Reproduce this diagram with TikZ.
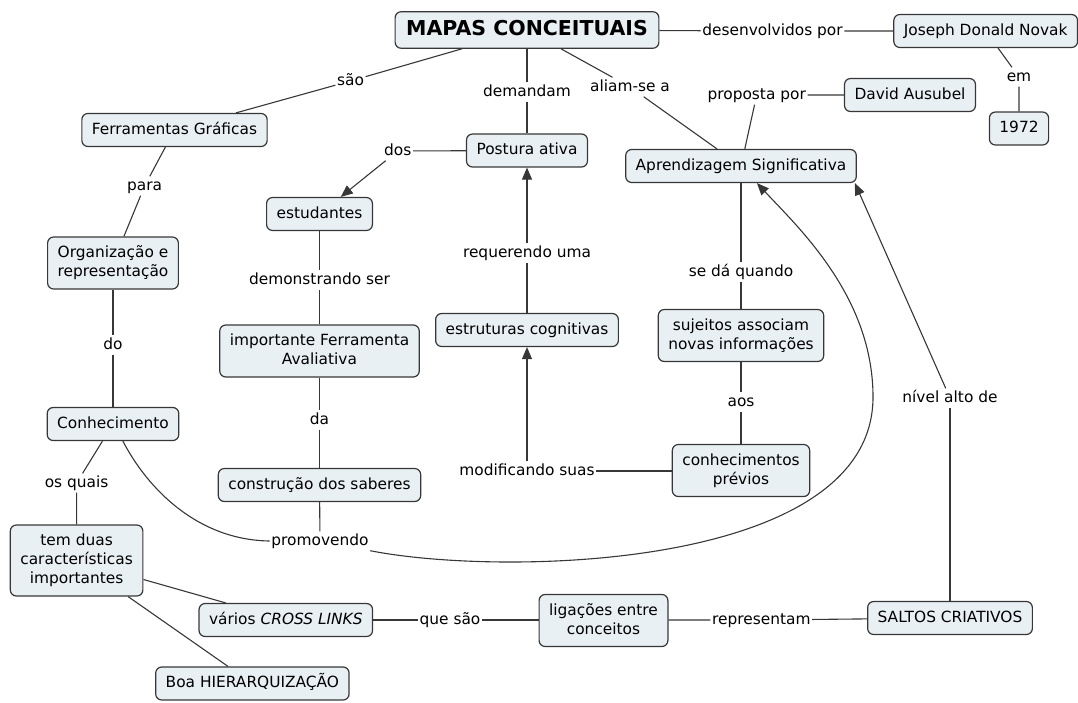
\documentclass[tikz,border=0pt]{standalone}
\usepackage{fontspec}
\setmainfont{DejaVu Sans}
\usetikzlibrary{arrows.meta}

\definecolor{boxfill}{RGB}{233,240,243}
\definecolor{boxline}{RGB}{55,55,55}

\tikzset{
    concept/.style={draw=boxline, fill=boxfill, rounded corners=6pt, line width=1.2pt,
        inner xsep=10pt, inner ysep=9pt, align=center, text height=11.5pt, text depth=3.5pt,
        font=\fontsize{15.4}{19}\selectfont},
    twolines/.style={text height=30.5pt},
    threelines/.style={text height=49.5pt},
    phrase/.style={inner xsep=1.5pt, inner ysep=2pt, text height=11.5pt, text depth=3.5pt,
        font=\fontsize{15.4}{19}\selectfont},
    link/.style={draw=boxline, line width=1.1pt},
    arrow/.style={link, -{Triangle[length=12pt,width=10pt]}}
}

\begin{document}
\begin{tikzpicture}[x=1pt, y=1pt]
    \useasboundingbox (0,0) rectangle (1078,-702);

    % the concepts
    \node[concept, inner xsep=11pt, text height=14.5pt, text depth=4pt,
        font=\fontsize{20.5}{24}\selectfont\bfseries] (mapas) at (527,-30) {MAPAS CONCEITUAIS};
    \node[concept] (ferr) at (174.5,-130) {Ferramentas Gráficas};
    \node[concept] (postura) at (527,-150.5) {Postura ativa};
    \node[concept] (estud) at (319.5,-214) {estudantes};
    \node[concept] (joseph) at (985.7,-31) {Joseph Donald Novak};
    \node[concept] (david) at (910,-95) {David Ausubel};
    \node[concept] (ano) at (1019,-128.5) {1972};
    \node[concept] (apr) at (741,-166) {Aprendizagem Significativa};
    \node[concept, twolines] (org) at (113,-263) {Organização e\\representação};
    \node[concept, twolines] (impor) at (319.5,-351) {importante Ferramenta\\Avaliativa};
    \node[concept] (conh) at (113,-424) {Conhecimento};
    \node[concept] (estrut) at (527,-330) {estruturas cognitivas};
    \node[concept, twolines] (sujeitos) at (741,-335.5) {sujeitos associam\\novas informações};
    \node[concept, twolines] (conhprev) at (741,-470.5) {conhecimentos\\prévios};
    \node[concept] (constr) at (319.5,-485) {construção dos saberes};
    \node[concept, threelines] (temduas) at (76.6,-560.5) {tem duas\\características\\importantes};
    \node[concept] (varios) at (285.8,-620) {vários \textit{CROSS LINKS}};
    \node[concept] (boa) at (252.4,-683.5) {Boa HIERARQUIZAÇÃO};
    \node[concept, twolines] (ligacoes) at (603.5,-620.5) {ligações entre\\conceitos};
    \node[concept] (saltos) at (950,-618) {SALTOS CRIATIVOS};

    % the linking phrases
    \node[phrase] (sao) at (350.5,-81) {são};
    \node[phrase] (demandam) at (527,-92) {demandam};
    \node[phrase] (aliam) at (630,-87) {aliam-se a};
    \node[phrase] (desenv) at (772.5,-31) {desenvolvidos por};
    \node[phrase] (em) at (1019,-77) {em};
    \node[phrase] (proposta) at (756.7,-95) {proposta por};
    \node[phrase] (dos) at (397.7,-151) {dos};
    \node[phrase] (para) at (144.6,-186) {para};
    \node[phrase] (requer) at (527,-253) {requerendo uma};
    \node[phrase] (demonstr) at (319.5,-280) {demonstrando ser};
    \node[phrase] (do) at (113,-345) {do};
    \node[phrase] (da) at (319.5,-420) {da};
    \node[phrase] (seda) at (741,-272) {se dá quando};
    \node[phrase] (aos) at (741,-402) {aos};
    \node[phrase] (nivel) at (950,-398) {nível alto de};
    \node[phrase] (modif) at (527,-471) {modificando suas};
    \node[phrase] (osquais) at (76.6,-483) {os quais};
    \node[phrase] (promov) at (320,-541) {promovendo};
    \node[phrase] (quesao) at (450,-620) {que são};
    \node[phrase] (repres) at (761.3,-620) {representam};

    % the bend of the long curve
    \coordinate (bend) at (873,-397);

    % plain connectors
    \draw[link] (mapas) -- (sao) -- (ferr);
    \draw[link] (mapas.south -| demandam) -- (demandam) -- (postura);
    \draw[link] (mapas) -- (aliam) -- (apr);
    \draw[link] (mapas) -- (desenv) -- (joseph);
    \draw[link] (joseph) -- (em) -- (ano);
    \draw[link] (apr) -- (proposta) -- (david);
    \draw[link] (postura) -- (dos);
    \draw[link] (ferr) -- (para) -- (org);
    \draw[link] (org) -- (do) -- (conh);
    \draw[link] (estud) -- (demonstr) -- (impor);
    \draw[link] (impor) -- (da) -- (constr);
    \draw[link] (constr) -- (promov);
    \draw[link] (apr) -- (seda) -- (sujeitos);
    \draw[link] (sujeitos) -- (aos) -- (conhprev);
    \draw[link] (conhprev.west |- modif) -- (modif);
    \draw[link] (conh) -- (osquais) -- (temduas);
    \draw[link] (temduas) -- (varios);
    \draw[link] (temduas) -- (boa);
    \draw[link] (varios) -- (quesao) -- (ligacoes.west |- quesao);
    \draw[link] (ligacoes.east |- repres) -- (repres) -- (saltos);
    \draw[link] (saltos) -- (nivel);
    \draw[link] (conh.-60) .. controls +(25,-48) and +(-72,1) .. (promov.west);

    % connectors with arrow tips
    \draw[arrow] (dos) -- (estud);
    \draw[link] (estrut) -- (requer);
    \draw[arrow] (requer) -- (postura);
    \draw[arrow] (modif) -- (estrut);
    \draw[arrow] (nivel) -- ([xshift=-2pt]apr.south east);
    \draw[arrow] (promov.south east) .. controls +(131,-26) and +(0,-173) .. (bend)
        .. controls +(0,100) and +(42,-45) .. (apr.-47);
\end{tikzpicture}
\end{document}
